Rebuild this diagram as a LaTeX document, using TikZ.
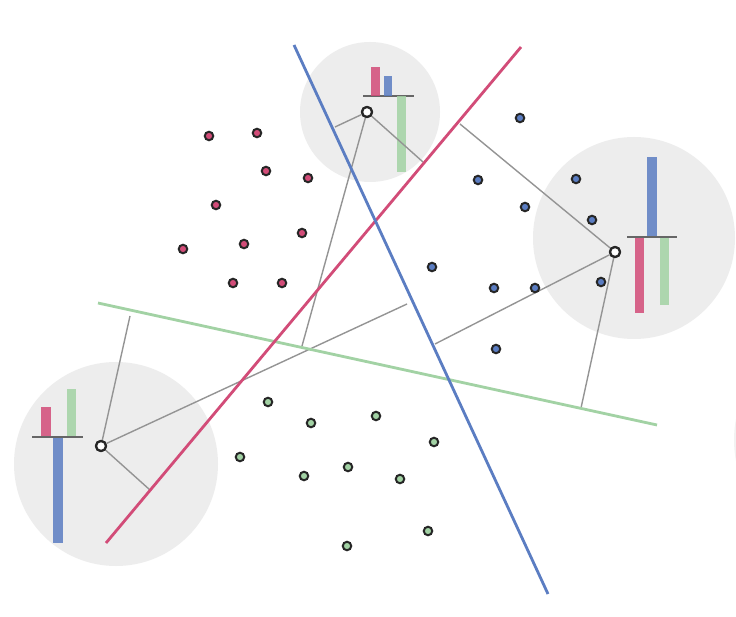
\documentclass[tikz,border=0pt]{standalone}
\begin{document}
\begin{tikzpicture}[x=1pt,y=-1pt,
  bgcirc/.style={fill=black!7, draw=none},
  guide/.style={draw=black!42, line width=1.4pt},
  redline/.style={draw=redc, line width=2.8pt},
  blueline/.style={draw=bluec, line width=2.8pt},
  greenline/.style={draw=greenc, line width=2.8pt},
  rpt/.style={circle, fill=redc, draw=black!85, line width=2pt, inner sep=0pt, minimum size=8.5pt},
  bpt/.style={circle, fill=bluec, draw=black!85, line width=2pt, inner sep=0pt, minimum size=8.5pt},
  gpt/.style={circle, fill=greenc, draw=black!85, line width=2pt, inner sep=0pt, minimum size=8.5pt},
  cent/.style={circle, fill=white, draw=black!85, line width=2.2pt, inner sep=0pt, minimum size=10pt},
  base/.style={draw=black!60, line width=1.8pt},
  rbar/.style={fill=redc, opacity=0.85},
  bbar/.style={fill=bluec, opacity=0.85},
  gbar/.style={fill=greenc, opacity=0.85}]
\definecolor{redc}{HTML}{D24C78}
\definecolor{bluec}{HTML}{5B7DC2}
\definecolor{greenc}{HTML}{A2D2A4}
\useasboundingbox (0,0) rectangle (736,617);
\fill[white] (0,0) rectangle (736,617);
% background circles
\begin{scope}
\clip (0,0) rectangle (736,617);
\fill[bgcirc] (370,112) circle (70);
\fill[bgcirc] (634,238) circle (101);
\fill[bgcirc] (116,464) circle (102);
\fill[black!5] (842,440) circle (108);
\end{scope}
% bars top
\draw[base] (363,96) -- (414,96);
\fill[rbar] (371,67) rectangle (380,96);
\fill[bbar] (384,76) rectangle (392,96);
\fill[gbar] (397,96) rectangle (406,172);
% bars right
\fill[bbar] (647,157) rectangle (657,237);
\fill[rbar] (635,237) rectangle (644,313);
\fill[gbar] (660,237) rectangle (669,305);
\draw[base] (627,237) -- (677,237);
% bars left
\fill[rbar] (41,407) rectangle (51,437);
\fill[gbar] (67,389) rectangle (76,437);
\fill[bbar] (53,437) rectangle (63,543);
\draw[base] (32,437) -- (83,437);
% centroids
\node[cent] (ct) at (367,112) {};
\node[cent] (cr) at (615,252) {};
\node[cent] (cl) at (101,446) {};
% foot coordinates
\coordinate (t1) at (335,127);
\coordinate (t2) at (302,346);
\coordinate (t3) at (423,162);
\coordinate (r1) at (460,124);
\coordinate (r2) at (435,344);
\coordinate (r3) at (581,408);
\coordinate (l1) at (130,316);
\coordinate (l2) at (407,304);
\coordinate (l3) at (150,490);
\draw[guide] (ct) -- (t1);
\draw[guide] (ct) -- (t2);
\draw[guide] (ct) -- (t3);
\draw[guide] (cr) -- (r1);
\draw[guide] (cr) -- (r2);
\draw[guide] (cr) -- (r3);
\draw[guide] (cl) -- (l1);
\draw[guide] (cl) -- (l2);
\draw[guide] (cl) -- (l3);
% decision lines
\coordinate (ga) at (98,303);
\coordinate (gb) at (657,425);
\coordinate (ra) at (521,47);
\coordinate (rb) at (106,543);
\coordinate (ba) at (294,45);
\coordinate (bb) at (548,594);
\draw[greenline] (ga) -- (gb);
\draw[redline] (ra) -- (rb);
\draw[blueline] (ba) -- (bb);
% re-draw centroids on top
\node[cent] at (ct) {};
\node[cent] at (cr) {};
\node[cent] at (cl) {};
% red points
\foreach \p [count=\i] in {(209,136),(257,133),(266,171),(308,178),(216,205),(183,249),(244,244),(302,233),(233,283),(282,283)}
  \node[rpt] (r\i) at \p {};
% blue points
\foreach \p [count=\i] in {(520,118),(478,180),(525,207),(576,179),(592,220),(432,267),(494,288),(535,288),(601,282),(496,349)}
  \node[bpt] (b\i) at \p {};
% green points
\foreach \p [count=\i] in {(268,402),(311,423),(376,416),(434,442),(240,457),(304,476),(348,467),(400,479),(428,531),(347,546)}
  \node[gpt] (g\i) at \p {};
\end{tikzpicture}
\end{document}
